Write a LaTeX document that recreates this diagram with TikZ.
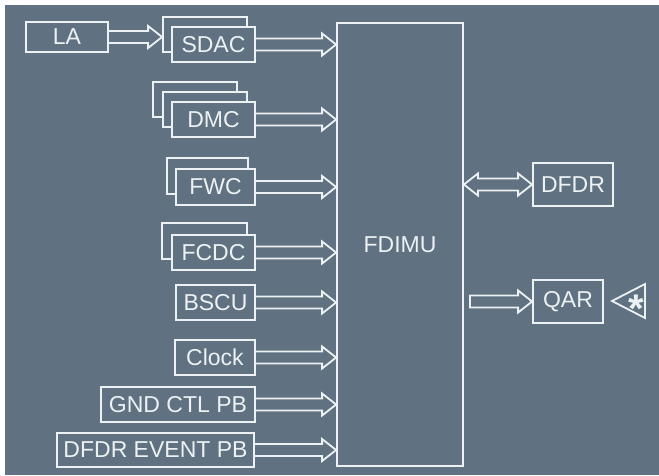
\documentclass[tikz,border=0pt]{standalone}
\usepackage{fontspec}
\setmainfont{Liberation Sans}
\usetikzlibrary{calc}
\definecolor{bg}{RGB}{96,114,129}
\definecolor{ln}{RGB}{236,241,243}
\tikzset{
  box/.style={draw=ln, line width=1.8pt, fill=bg, text=ln, inner sep=0pt,
    font=\fontsize{23}{26}\selectfont},
  conn/.style={draw=ln, line width=1.8pt, line join=miter},
}
\newcommand\inarrow[2]{\draw[conn] let \p1=(#1), \p2=(#2) in
  (\x1,\y1+6) -- (\x2-14,\y1+6) -- (\x2-14,\y1+11) -- (\x2,\y1) -- (\x2-14,\y1-11) -- (\x2-14,\y1-6) -- (\x1,\y1-6);}
\newcommand\closedarrow[2]{\draw[conn] let \p1=(#1), \p2=(#2) in
  (\x1,\y1+6) -- (\x2-14,\y1+6) -- (\x2-14,\y1+11) -- (\x2,\y1) -- (\x2-14,\y1-11) -- (\x2-14,\y1-6) -- (\x1,\y1-6) -- cycle;}
\newcommand\botharrow[2]{\draw[conn] let \p1=(#1), \p2=(#2) in
  (\x1,\y1) -- (\x1+14,\y1+11) -- (\x1+14,\y1+6) -- (\x2-14,\y1+6) -- (\x2-14,\y1+11) -- (\x2,\y1) -- (\x2-14,\y1-11) -- (\x2-14,\y1-6) -- (\x1+14,\y1-6) -- (\x1+14,\y1-11) -- cycle;}
\begin{document}
\begin{tikzpicture}[x=1pt,y=-1pt]
\fill[white] (0,0) rectangle (659,475);
\fill[bg] (5,5) rectangle (659,475);
\useasboundingbox (0,0) rectangle (659,475);

\node[box, minimum width=126, minimum height=443] (fdimu) at (400,244.5) {FDIMU};

\node[box, minimum width=82, minimum height=30] (la) at (67,37) {LA};
\node[box, minimum width=84, minimum height=35] (sdacb) at (205,34.5) {};
\node[box, minimum width=83, minimum height=35] (sdac) at (213.5,44.5) {SDAC};

\node[box, minimum width=84, minimum height=35] (dmcc) at (195,99.5) {};
\node[box, minimum width=84, minimum height=35] (dmcb) at (205,109.5) {};
\node[box, minimum width=83, minimum height=35] (dmc) at (213.5,119.5) {DMC};

\node[box, minimum width=81, minimum height=36] (fwcb) at (207.5,176) {};
\node[box, minimum width=79, minimum height=36] (fwc) at (215.5,187) {FWC};

\node[box, minimum width=85, minimum height=36] (fcdcb) at (204.5,241) {};
\node[box, minimum width=83, minimum height=35] (fcdc) at (213.5,252.5) {FCDC};

\node[box, minimum width=79, minimum height=35] (bscu) at (215.5,302.5) {BSCU};
\node[box, minimum width=80, minimum height=35] (clock) at (215,357.5) {Clock};
\node[box, minimum width=154, minimum height=35] (gnd) at (178,404.5) {GND CTL PB};
\node[box, minimum width=197, minimum height=34] (evt) at (155.5,450) {DFDR EVENT PB};

\node[box, minimum width=80, minimum height=43] (dfdr) at (573,184.5) {DFDR};
\node[box, minimum width=70, minimum height=43] (qar) at (568,301.5) {QAR};

\inarrow{la.east}{la.east -| sdacb.west}
\inarrow{sdac.east}{sdac.east -| fdimu.west}
\inarrow{dmc.east}{dmc.east -| fdimu.west}
\inarrow{fwc.east}{fwc.east -| fdimu.west}
\inarrow{fcdc.east}{fcdc.east -| fdimu.west}
\inarrow{bscu.east}{bscu.east -| fdimu.west}
\inarrow{clock.east}{clock.east -| fdimu.west}
\inarrow{gnd.east}{gnd.east -| fdimu.west}
\inarrow{evt.east}{evt.east -| fdimu.west}

\botharrow{dfdr.west -| fdimu.east}{dfdr.west}
\coordinate (qt) at ($(qar.west -| fdimu.east)+(6,0)$);
\closedarrow{qt}{qar.west}

\draw[conn] (612,301) -- (645,284) -- (645,318) -- cycle;
\node[text=ln, font=\bfseries\fontsize{40}{40}\selectfont, inner sep=0pt] (star) at (636,309) {*};
\end{tikzpicture}
\end{document}
